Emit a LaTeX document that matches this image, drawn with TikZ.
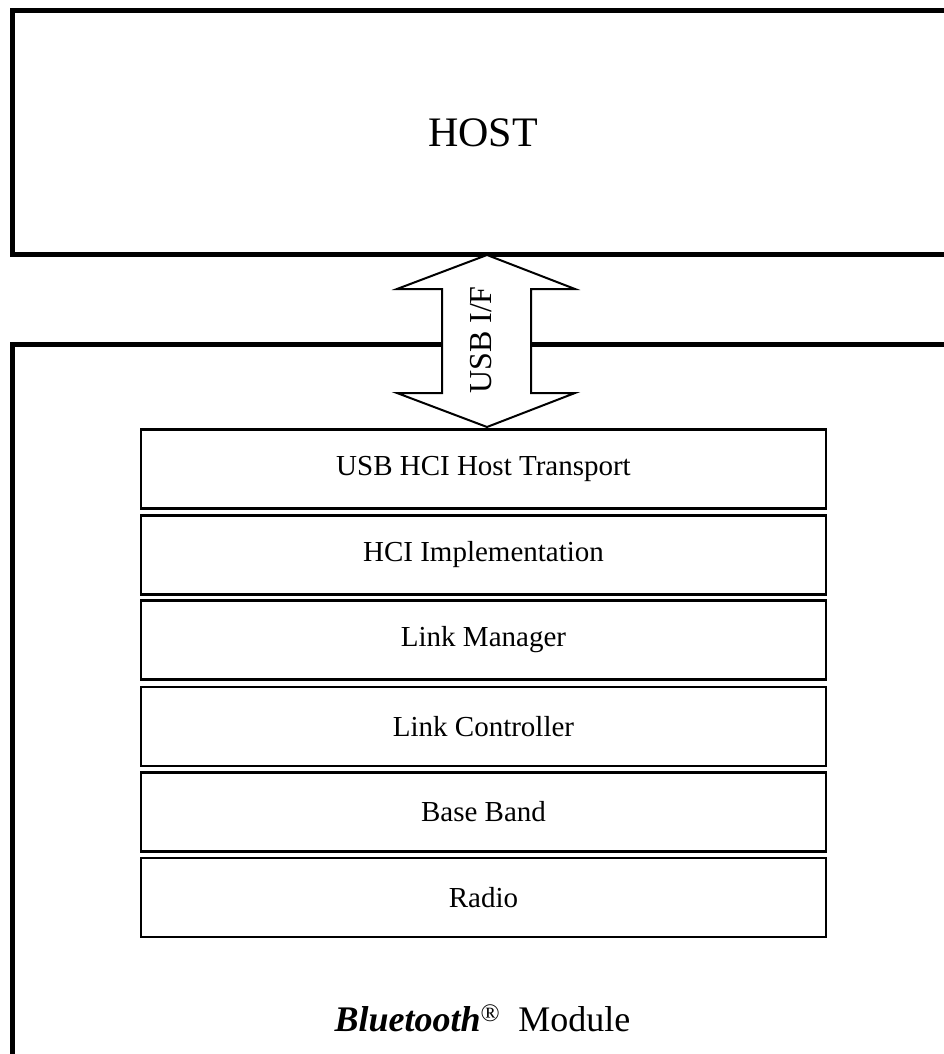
\documentclass[tikz,border=0pt]{standalone}
\usepackage{fontspec}
\setmainfont{Liberation Serif}
\begin{document}
\begin{tikzpicture}[x=1pt,y=-1pt,
  outer/.style={line width=5pt, line cap=butt, line join=miter},
  layer/.style={draw, line width=2.8pt, minimum width=685pt, minimum height=79pt,
    inner sep=0pt, font=\fontsize{29}{32}\selectfont},
  bigarrow/.style={draw, fill=white, line width=2pt, line join=miter}]
\useasboundingbox[fill=white] (0,0) rectangle (944,1054);
% HOST box
\draw[outer] (944,10.5) -- (12.5,10.5) -- (12.5,254) -- (944,254);
\node[font=\fontsize{42}{46}\selectfont] (host) at (483,132.5) {HOST};
% Module box
\draw[outer] (944,344) -- (12.5,344) -- (12.5,1054);
% protocol stack
\node[layer] (usb)   at (483.5,469)   {USB HCI Host Transport};
\node[layer] (hci)   at (483.5,555)   {HCI Implementation};
\node[layer] (lm)    at (483.5,640)   {Link Manager};
\node[layer] (lc)    at (483.5,726.5) {Link Controller};
\node[layer] (bb)    at (483.5,812)   {Base Band};
\node[layer] (radio) at (483.5,897.5) {Radio};
% double arrow USB I/F
\coordinate (atop) at (487,255);
\coordinate (abot) at (487,427);
\draw[bigarrow] (atop) -- (575,289) -- (531,289) -- (531,393) -- (575,393) -- (abot)
  -- (397,393) -- (442,393) -- (442,289) -- (397,289) -- cycle;
\node[rotate=90, font=\fontsize{32}{35}\selectfont] (usbif) at (481,340) {USB I/F};
% module label
\node[font=\fontsize{36}{40}\selectfont, anchor=base] (module) at (482.5,1031)
  {{\bfseries\itshape Bluetooth}\textsuperscript{\textregistered}\ \ Module};
\end{tikzpicture}
\end{document}
